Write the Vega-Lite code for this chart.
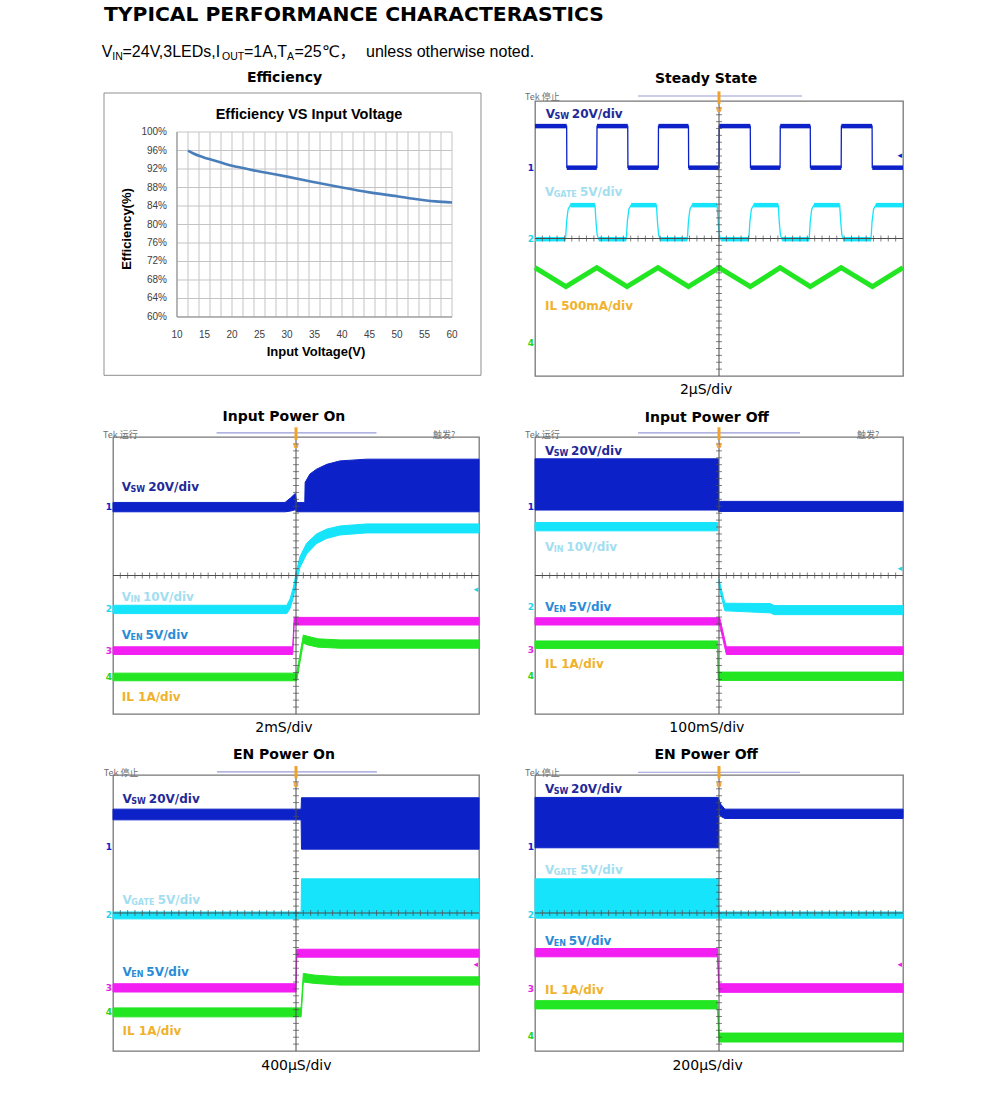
{
"$schema":"https://vega.github.io/schema/vega-lite/v6.json",
"usermeta":{"embedOptions":{"actions":false}},
"autosize":{"type":"none"},
"padding":{"left":113,"top":0,"right":878,"bottom":1119},
"background":"#ffffff",
"config":{"view":{"stroke":null},"font":"Liberation Sans"},
"datasets":{
"minor":[{"m":0.2},{"m":0.4},{"m":0.6},{"m":0.8},{"m":1},{"m":1.2},{"m":1.4},{"m":1.6},{"m":1.8},{"m":2},{"m":2.2},{"m":2.4},{"m":2.6},{"m":2.8},{"m":3},{"m":3.2},{"m":3.4},{"m":3.6},{"m":3.8},{"m":4},{"m":4.2},{"m":4.4},{"m":4.6},{"m":4.8},{"m":5},{"m":5.2},{"m":5.4},{"m":5.6},{"m":5.8},{"m":6},{"m":6.2},{"m":6.4},{"m":6.6},{"m":6.8},{"m":7},{"m":7.2},{"m":7.4},{"m":7.6},{"m":7.8},{"m":8},{"m":8.2},{"m":8.4},{"m":8.6},{"m":8.8},{"m":9},{"m":9.2},{"m":9.4},{"m":9.6},{"m":9.8}],
"hdr":[{"text":"V","hx":-11.3,"hy":56.7,"s":"main"},{"text":"IN","hx":-0.7,"hy":59.5,"s":"sub"},{"text":"=24V,3LEDs,I","hx":9.5,"hy":56.7,"s":"main"},{"text":"OUT","hx":109,"hy":59.5,"s":"sub"},{"text":"=1A,T","hx":131,"hy":56.7,"s":"main"},{"text":"A","hx":174,"hy":59.5,"s":"sub"},{"text":"=25℃，","hx":181.5,"hy":56.7,"s":"main"},{"text":"unless otherwise noted.","hx":253,"hy":56.7,"s":"main"}],
"egx":[{"v":10},{"v":12},{"v":14},{"v":16},{"v":18},{"v":20},{"v":22},{"v":24},{"v":26},{"v":28},{"v":30},{"v":32},{"v":34},{"v":36},{"v":38},{"v":40},{"v":42},{"v":44},{"v":46},{"v":48},{"v":50},{"v":52},{"v":54},{"v":56},{"v":58},{"v":60}],
"egy":[{"e":60,"lab":"60%"},{"e":64,"lab":"64%"},{"e":68,"lab":"68%"},{"e":72,"lab":"72%"},{"e":76,"lab":"76%"},{"e":80,"lab":"80%"},{"e":84,"lab":"84%"},{"e":88,"lab":"88%"},{"e":92,"lab":"92%"},{"e":96,"lab":"96%"},{"e":100,"lab":"100%"}],
"etx":[{"v":10},{"v":15},{"v":20},{"v":25},{"v":30},{"v":35},{"v":40},{"v":45},{"v":50},{"v":55},{"v":60}],
"eff":[{"v":12,"e":96.0},{"v":13,"e":95.35},{"v":14,"e":94.85},{"v":15,"e":94.45},{"v":16,"e":94.1},{"v":18,"e":93.4},{"v":20,"e":92.7},{"v":22,"e":92.2},{"v":25,"e":91.45},{"v":28,"e":90.8},{"v":30,"e":90.35},{"v":35,"e":89.15},{"v":40,"e":88.0},{"v":45,"e":86.95},{"v":50,"e":86.1},{"v":53,"e":85.55},{"v":55,"e":85.25},{"v":57,"e":85.0},{"v":60,"e":84.75}],
"s2":[{"ch":"VSW","t":0,"y":7.27},{"ch":"VSW","t":0.86,"y":7.27},{"ch":"VSW","t":0.865,"y":6.06},{"ch":"VSW","t":1.68,"y":6.06},{"ch":"VSW","t":1.685,"y":7.27},{"ch":"VSW","t":2.52,"y":7.27},{"ch":"VSW","t":2.525,"y":6.06},{"ch":"VSW","t":3.35,"y":6.06},{"ch":"VSW","t":3.355,"y":7.27},{"ch":"VSW","t":4.17,"y":7.27},{"ch":"VSW","t":4.175,"y":6.06},{"ch":"VSW","t":5.0,"y":6.06},{"ch":"VSW","t":5.005,"y":7.27},{"ch":"VSW","t":5.85,"y":7.27},{"ch":"VSW","t":5.855,"y":6.06},{"ch":"VSW","t":6.66,"y":6.06},{"ch":"VSW","t":6.665,"y":7.27},{"ch":"VSW","t":7.48,"y":7.27},{"ch":"VSW","t":7.485,"y":6.06},{"ch":"VSW","t":8.32,"y":6.06},{"ch":"VSW","t":8.325,"y":7.27},{"ch":"VSW","t":9.16,"y":7.27},{"ch":"VSW","t":9.165,"y":6.06},{"ch":"VSW","t":10,"y":6.06},
{"ch":"VGATE","t":0,"y":3.98},{"ch":"VGATE","t":0.83,"y":3.98},{"ch":"VGATE","t":0.86,"y":4.5},{"ch":"VGATE","t":0.9,"y":4.85},{"ch":"VGATE","t":0.96,"y":4.97},{"ch":"VGATE","t":1.63,"y":4.97},{"ch":"VGATE","t":1.66,"y":4.45},{"ch":"VGATE","t":1.69,"y":4.1},{"ch":"VGATE","t":1.73,"y":3.98},{"ch":"VGATE","t":2.48,"y":3.98},{"ch":"VGATE","t":2.51,"y":4.5},{"ch":"VGATE","t":2.55,"y":4.85},{"ch":"VGATE","t":2.61,"y":4.97},{"ch":"VGATE","t":3.3,"y":4.97},{"ch":"VGATE","t":3.33,"y":4.45},{"ch":"VGATE","t":3.36,"y":4.1},{"ch":"VGATE","t":3.4,"y":3.98},{"ch":"VGATE","t":4.14,"y":3.98},{"ch":"VGATE","t":4.17,"y":4.5},{"ch":"VGATE","t":4.21,"y":4.85},{"ch":"VGATE","t":4.27,"y":4.97},{"ch":"VGATE","t":4.95,"y":4.97},{"ch":"VGATE","t":4.98,"y":4.45},{"ch":"VGATE","t":5.01,"y":4.1},{"ch":"VGATE","t":5.05,"y":3.98},{"ch":"VGATE","t":5.81,"y":3.98},{"ch":"VGATE","t":5.84,"y":4.5},{"ch":"VGATE","t":5.88,"y":4.85},{"ch":"VGATE","t":5.94,"y":4.97},{"ch":"VGATE","t":6.61,"y":4.97},{"ch":"VGATE","t":6.64,"y":4.45},{"ch":"VGATE","t":6.67,"y":4.1},{"ch":"VGATE","t":6.71,"y":3.98},{"ch":"VGATE","t":7.45,"y":3.98},{"ch":"VGATE","t":7.48,"y":4.5},{"ch":"VGATE","t":7.52,"y":4.85},{"ch":"VGATE","t":7.58,"y":4.97},{"ch":"VGATE","t":8.28,"y":4.97},{"ch":"VGATE","t":8.31,"y":4.45},{"ch":"VGATE","t":8.34,"y":4.1},{"ch":"VGATE","t":8.38,"y":3.98},{"ch":"VGATE","t":9.13,"y":3.98},{"ch":"VGATE","t":9.16,"y":4.5},{"ch":"VGATE","t":9.2,"y":4.85},{"ch":"VGATE","t":9.26,"y":4.97},{"ch":"VGATE","t":10,"y":4.97}],
"p2":[{"ch":"VSW","t":0,"t2":0.86,"y":7.27},{"ch":"VSW","t":1.685,"t2":2.52,"y":7.27},{"ch":"VSW","t":3.355,"t2":4.17,"y":7.27},{"ch":"VSW","t":5.005,"t2":5.85,"y":7.27},{"ch":"VSW","t":6.665,"t2":7.48,"y":7.27},{"ch":"VSW","t":8.325,"t2":9.16,"y":7.27},
{"ch":"VSW","t":0.865,"t2":1.68,"y":6.06},{"ch":"VSW","t":2.525,"t2":3.35,"y":6.06},{"ch":"VSW","t":4.175,"t2":5.0,"y":6.06},{"ch":"VSW","t":5.855,"t2":6.66,"y":6.06},{"ch":"VSW","t":7.485,"t2":8.32,"y":6.06},{"ch":"VSW","t":9.165,"t2":10,"y":6.06},
{"ch":"VGATE","t":0,"t2":0.83,"y":3.98},{"ch":"VGATE","t":1.73,"t2":2.48,"y":3.98},{"ch":"VGATE","t":3.4,"t2":4.14,"y":3.98},{"ch":"VGATE","t":5.05,"t2":5.81,"y":3.98},{"ch":"VGATE","t":6.71,"t2":7.45,"y":3.98},{"ch":"VGATE","t":8.38,"t2":9.13,"y":3.98},
{"ch":"VGATE","t":0.96,"t2":1.63,"y":4.97},{"ch":"VGATE","t":2.61,"t2":3.3,"y":4.97},{"ch":"VGATE","t":4.27,"t2":4.95,"y":4.97},{"ch":"VGATE","t":5.94,"t2":6.61,"y":4.97},{"ch":"VGATE","t":7.58,"t2":8.28,"y":4.97},{"ch":"VGATE","t":9.26,"t2":10,"y":4.97}],
"il2":[{"ch":"IL","t":0,"y":3.15},{"ch":"IL","t":0.84,"y":2.6},{"ch":"IL","t":1.68,"y":3.15},{"ch":"IL","t":2.5,"y":2.6},{"ch":"IL","t":3.34,"y":3.15},{"ch":"IL","t":4.17,"y":2.6},{"ch":"IL","t":5.0,"y":3.15},{"ch":"IL","t":5.85,"y":2.6},{"ch":"IL","t":6.66,"y":3.15},{"ch":"IL","t":7.48,"y":2.6},{"ch":"IL","t":8.32,"y":3.15},{"ch":"IL","t":9.17,"y":2.6},{"ch":"IL","t":10,"y":3.15}],
"l2":[{"text":"V","t":0.29,"y":7.62,"c":"lvsw","s":"main"},{"text":"SW","t":0.53,"y":7.53,"c":"lvsw","s":"sub"},{"text":"20V/div","t":1.0,"y":7.62,"c":"lvsw","s":"main"},{"text":"V","t":0.27,"y":5.35,"c":"lvgate","s":"main"},{"text":"GATE","t":0.51,"y":5.26,"c":"lvgate","s":"sub"},{"text":"5V/div","t":1.22,"y":5.35,"c":"lvgate","s":"main"},{"text":"IL 500mA/div","t":0.27,"y":2.03,"c":"lil","s":"main"}],
"k2":[{"text":"1","t":0,"y":6.06,"c":"VSW"},{"text":"2","t":0,"y":3.98,"c":"VGATE"},{"text":"4","t":0,"y":0.97,"c":"IL"},{"text":"◂","t":10,"y":6.43,"c":"VSW"}],
"g2":[{"text":"Tek 停止","t":-0.27,"y":8.12}],
"b3":[{"ch":"VSW","seg":"a","t":0,"lo":5.84,"hi":6.11},{"ch":"VSW","seg":"a","t":4.7,"lo":5.84,"hi":6.11},{"ch":"VSW","seg":"a","t":4.85,"lo":5.86,"hi":6.24},{"ch":"VSW","seg":"a","t":4.98,"lo":5.9,"hi":6.37},{"ch":"VSW","seg":"a","t":5.02,"lo":5.84,"hi":6.11},{"ch":"VSW","seg":"a","t":5.24,"lo":5.84,"hi":6.11},{"ch":"VSW","seg":"a","t":5.25,"lo":5.84,"hi":6.69},{"ch":"VSW","seg":"a","t":5.38,"lo":5.84,"hi":6.93},{"ch":"VSW","seg":"a","t":5.56,"lo":5.84,"hi":7.07},{"ch":"VSW","seg":"a","t":5.84,"lo":5.84,"hi":7.21},{"ch":"VSW","seg":"a","t":6.2,"lo":5.84,"hi":7.31},{"ch":"VSW","seg":"a","t":6.93,"lo":5.84,"hi":7.36},{"ch":"VSW","seg":"a","t":10,"lo":5.84,"hi":7.36},
{"ch":"VIN","seg":"a","t":0,"lo":2.9,"hi":3.14},{"ch":"VIN","seg":"a","t":4.75,"lo":2.9,"hi":3.14},{"ch":"VIN","seg":"a","t":4.84,"lo":3.05,"hi":3.33},{"ch":"VIN","seg":"a","t":4.93,"lo":3.37,"hi":3.67},{"ch":"VIN","seg":"a","t":5.02,"lo":3.84,"hi":4.16},{"ch":"VIN","seg":"a","t":5.11,"lo":4.23,"hi":4.55},{"ch":"VIN","seg":"a","t":5.29,"lo":4.62,"hi":4.93},{"ch":"VIN","seg":"a","t":5.56,"lo":4.92,"hi":5.2},{"ch":"VIN","seg":"a","t":5.84,"lo":5.07,"hi":5.34},{"ch":"VIN","seg":"a","t":6.2,"lo":5.17,"hi":5.43},{"ch":"VIN","seg":"a","t":6.93,"lo":5.23,"hi":5.49},{"ch":"VIN","seg":"a","t":10,"lo":5.23,"hi":5.49},
{"ch":"VEN","seg":"a","t":0,"lo":1.72,"hi":1.94},{"ch":"VEN","seg":"a","t":4.91,"lo":1.72,"hi":1.94},{"ch":"VEN","seg":"a","t":4.95,"lo":2.57,"hi":2.79},{"ch":"VEN","seg":"a","t":10,"lo":2.57,"hi":2.79},
{"ch":"IL","seg":"a","t":0,"lo":0.96,"hi":1.18},{"ch":"IL","seg":"a","t":5.02,"lo":0.96,"hi":1.18},{"ch":"IL","seg":"a","t":5.2,"lo":2.05,"hi":2.28},{"ch":"IL","seg":"a","t":5.3,"lo":2.0,"hi":2.25},{"ch":"IL","seg":"a","t":5.6,"lo":1.93,"hi":2.17},{"ch":"IL","seg":"a","t":6.2,"lo":1.9,"hi":2.14},{"ch":"IL","seg":"a","t":10,"lo":1.9,"hi":2.14}],
"l3":[{"text":"V","t":0.24,"y":6.56,"c":"lvsw","s":"main"},{"text":"SW","t":0.48,"y":6.47,"c":"lvsw","s":"sub"},{"text":"20V/div","t":0.96,"y":6.56,"c":"lvsw","s":"main"},{"text":"V","t":0.24,"y":3.39,"c":"lvin","s":"main"},{"text":"IN","t":0.48,"y":3.3,"c":"lvin","s":"sub"},{"text":"10V/div","t":0.82,"y":3.39,"c":"lvin","s":"main"},{"text":"V","t":0.24,"y":2.28,"c":"lven","s":"main"},{"text":"EN","t":0.48,"y":2.19,"c":"lven","s":"sub"},{"text":"5V/div","t":0.89,"y":2.28,"c":"lven","s":"main"},{"text":"IL 1A/div","t":0.24,"y":0.5,"c":"lil","s":"main"}],
"k3":[{"text":"1","t":0,"y":5.97,"c":"VSW"},{"text":"2","t":0,"y":3.02,"c":"VIN"},{"text":"3","t":0,"y":1.83,"c":"VEN"},{"text":"4","t":0,"y":1.08,"c":"IL"},{"text":"◂","t":10,"y":3.62,"c":"VIN"}],
"g3":[{"text":"Tek 运行","t":-0.27,"y":8.06},{"text":"触发?","t":8.74,"y":8.06}],
"b4":[{"ch":"VSW","seg":"a","t":0,"lo":5.89,"hi":7.37},{"ch":"VSW","seg":"a","t":4.98,"lo":5.89,"hi":7.37},{"ch":"VSW","seg":"a","t":4.99,"lo":5.85,"hi":6.14},{"ch":"VSW","seg":"a","t":10,"lo":5.85,"hi":6.14},
{"ch":"VIN","seg":"a","t":0,"lo":5.29,"hi":5.53},{"ch":"VIN","seg":"a","t":4.96,"lo":5.29,"hi":5.53},
{"ch":"VIN","seg":"b","t":5.0,"lo":3.72,"hi":3.9},{"ch":"VIN","seg":"b","t":5.06,"lo":3.4,"hi":3.62},{"ch":"VIN","seg":"b","t":5.16,"lo":2.98,"hi":3.2},{"ch":"VIN","seg":"b","t":6.4,"lo":2.92,"hi":3.19},{"ch":"VIN","seg":"b","t":6.5,"lo":2.87,"hi":3.13},{"ch":"VIN","seg":"b","t":10,"lo":2.87,"hi":3.13},
{"ch":"VEN","seg":"a","t":0,"lo":2.57,"hi":2.78},{"ch":"VEN","seg":"a","t":5.02,"lo":2.57,"hi":2.78},{"ch":"VEN","seg":"a","t":5.2,"lo":1.72,"hi":1.94},{"ch":"VEN","seg":"a","t":10,"lo":1.72,"hi":1.94},
{"ch":"IL","seg":"a","t":0,"lo":1.89,"hi":2.11},{"ch":"IL","seg":"a","t":4.96,"lo":1.89,"hi":2.11},{"ch":"IL","seg":"a","t":4.98,"lo":0.97,"hi":1.21},{"ch":"IL","seg":"a","t":10,"lo":0.97,"hi":1.21}],
"l4":[{"text":"V","t":0.27,"y":7.6,"c":"lvsw","s":"main"},{"text":"SW","t":0.51,"y":7.51,"c":"lvsw","s":"sub"},{"text":"20V/div","t":0.98,"y":7.6,"c":"lvsw","s":"main"},{"text":"V","t":0.27,"y":4.83,"c":"lvin","s":"main"},{"text":"IN","t":0.51,"y":4.74,"c":"lvin","s":"sub"},{"text":"10V/div","t":0.85,"y":4.83,"c":"lvin","s":"main"},{"text":"V","t":0.27,"y":3.1,"c":"lven","s":"main"},{"text":"EN","t":0.51,"y":3.01,"c":"lven","s":"sub"},{"text":"5V/div","t":0.92,"y":3.1,"c":"lven","s":"main"},{"text":"IL 1A/div","t":0.27,"y":1.44,"c":"lil","s":"main"}],
"k4":[{"text":"1","t":0,"y":5.98,"c":"VSW"},{"text":"2","t":0,"y":3.1,"c":"VIN"},{"text":"3","t":0,"y":1.84,"c":"VEN"},{"text":"4","t":0,"y":1.1,"c":"IL"},{"text":"◂","t":10,"y":4.22,"c":"VIN"}],
"g4":[{"text":"Tek 运行","t":-0.27,"y":8.06},{"text":"触发?","t":8.75,"y":8.06}],
"b5":[{"ch":"VSW","seg":"a","t":0,"lo":6.7,"hi":7.01},{"ch":"VSW","seg":"a","t":5.14,"lo":6.7,"hi":7.01},{"ch":"VSW","seg":"a","t":5.15,"lo":5.85,"hi":7.34},{"ch":"VSW","seg":"a","t":10,"lo":5.85,"hi":7.34},
{"ch":"VGATE","seg":"a","t":0,"lo":3.83,"hi":4.03},{"ch":"VGATE","seg":"a","t":5.14,"lo":3.83,"hi":4.03},{"ch":"VGATE","seg":"a","t":5.15,"lo":3.83,"hi":4.99},{"ch":"VGATE","seg":"a","t":10,"lo":3.83,"hi":4.99},
{"ch":"VEN","seg":"a","t":0,"lo":1.71,"hi":1.95},{"ch":"VEN","seg":"a","t":5.0,"lo":1.71,"hi":1.95},{"ch":"VEN","seg":"a","t":5.02,"lo":2.72,"hi":2.95},{"ch":"VEN","seg":"a","t":10,"lo":2.72,"hi":2.95},
{"ch":"IL","seg":"a","t":0,"lo":0.99,"hi":1.25},{"ch":"IL","seg":"a","t":5.14,"lo":0.99,"hi":1.25},{"ch":"IL","seg":"a","t":5.2,"lo":2.0,"hi":2.25},{"ch":"IL","seg":"a","t":5.5,"lo":1.96,"hi":2.2},{"ch":"IL","seg":"a","t":6.2,"lo":1.91,"hi":2.15},{"ch":"IL","seg":"a","t":10,"lo":1.91,"hi":2.15}],
"l5":[{"text":"V","t":0.26,"y":7.31,"c":"lvsw","s":"main"},{"text":"SW","t":0.5,"y":7.22,"c":"lvsw","s":"sub"},{"text":"20V/div","t":0.98,"y":7.31,"c":"lvsw","s":"main"},{"text":"V","t":0.26,"y":4.37,"c":"lvgate","s":"main"},{"text":"GATE","t":0.5,"y":4.28,"c":"lvgate","s":"sub"},{"text":"5V/div","t":1.22,"y":4.37,"c":"lvgate","s":"main"},{"text":"V","t":0.26,"y":2.29,"c":"lven","s":"main"},{"text":"EN","t":0.5,"y":2.2,"c":"lven","s":"sub"},{"text":"5V/div","t":0.91,"y":2.29,"c":"lven","s":"main"},{"text":"IL 1A/div","t":0.26,"y":0.57,"c":"lil","s":"main"}],
"k5":[{"text":"1","t":0,"y":5.9,"c":"VSW"},{"text":"2","t":0,"y":3.93,"c":"VGATE"},{"text":"3","t":0,"y":1.84,"c":"VEN"},{"text":"4","t":0,"y":1.12,"c":"IL"},{"text":"◂","t":10,"y":2.53,"c":"VEN"}],
"g5":[{"text":"Tek 停止","t":-0.25,"y":8.06}],
"b6":[{"ch":"VSW","seg":"a","t":0,"lo":5.89,"hi":7.35},{"ch":"VSW","seg":"a","t":4.98,"lo":5.89,"hi":7.35},{"ch":"VSW","seg":"a","t":4.99,"lo":6.9,"hi":7.3},{"ch":"VSW","seg":"a","t":5.05,"lo":6.8,"hi":7.15},{"ch":"VSW","seg":"a","t":5.16,"lo":6.74,"hi":7.01},{"ch":"VSW","seg":"a","t":10,"lo":6.74,"hi":7.01},
{"ch":"VGATE","seg":"a","t":0,"lo":3.85,"hi":4.99},{"ch":"VGATE","seg":"a","t":4.98,"lo":3.85,"hi":4.99},{"ch":"VGATE","seg":"a","t":4.99,"lo":3.85,"hi":4.03},{"ch":"VGATE","seg":"a","t":10,"lo":3.85,"hi":4.03},
{"ch":"VEN","seg":"a","t":0,"lo":2.73,"hi":2.97},{"ch":"VEN","seg":"a","t":4.96,"lo":2.73,"hi":2.97},{"ch":"VEN","seg":"a","t":5.0,"lo":1.7,"hi":1.95},{"ch":"VEN","seg":"a","t":10,"lo":1.7,"hi":1.95},
{"ch":"IL","seg":"a","t":0,"lo":1.22,"hi":1.46},{"ch":"IL","seg":"a","t":4.96,"lo":1.22,"hi":1.46},{"ch":"IL","seg":"a","t":5.0,"lo":0.26,"hi":0.52},{"ch":"IL","seg":"a","t":10,"lo":0.26,"hi":0.52}],
"l6":[{"text":"V","t":0.27,"y":7.6,"c":"lvsw","s":"main"},{"text":"SW","t":0.51,"y":7.51,"c":"lvsw","s":"sub"},{"text":"20V/div","t":0.98,"y":7.6,"c":"lvsw","s":"main"},{"text":"V","t":0.27,"y":5.24,"c":"lvgate","s":"main"},{"text":"GATE","t":0.51,"y":5.15,"c":"lvgate","s":"sub"},{"text":"5V/div","t":1.23,"y":5.24,"c":"lvgate","s":"main"},{"text":"V","t":0.27,"y":3.18,"c":"lven","s":"main"},{"text":"EN","t":0.51,"y":3.09,"c":"lven","s":"sub"},{"text":"5V/div","t":0.92,"y":3.18,"c":"lven","s":"main"},{"text":"IL 1A/div","t":0.27,"y":1.76,"c":"lil","s":"main"}],
"k6":[{"text":"1","t":0,"y":5.91,"c":"VSW"},{"text":"2","t":0,"y":3.94,"c":"VGATE"},{"text":"3","t":0,"y":1.8,"c":"VEN"},{"text":"4","t":0,"y":0.44,"c":"IL"},{"text":"◂","t":10,"y":2.53,"c":"VEN"}],
"g6":[{"text":"Tek 停止","t":-0.27,"y":8.06}]
},
"spacing":0,
"bounds":"flush",
"resolve":{"scale":{"x":"independent","y":"independent","color":"independent","size":"independent","fill":"independent","stroke":"independent"}},
"vconcat":[
{"width":790,"height":101,
 "layer":[
  {"data":{"values":[{}]},"mark":{"type":"text","font":"DejaVu Sans","fontWeight":"bold","fontSize":20.3,"align":"left","baseline":"alphabetic","color":"#000000"},
   "encoding":{"x":{"datum":-9,"scale":{"domain":[0,790],"nice":false,"zero":false},"axis":null},"y":{"datum":20.7,"scale":{"domain":[0,101],"reverse":true,"nice":false,"zero":false},"axis":null},"text":{"value":"TYPICAL PERFORMANCE CHARACTERASTICS"}}},
  {"data":{"name":"hdr"},"mark":{"type":"text","font":"Liberation Sans, DejaVu Sans, Noto Sans CJK SC","align":"left","baseline":"alphabetic","color":"#000000"},
   "encoding":{"x":{"field":"hx","type":"quantitative","scale":{"domain":[0,790],"nice":false,"zero":false},"axis":null},"y":{"field":"hy","type":"quantitative","scale":{"domain":[0,101],"reverse":true,"nice":false,"zero":false},"axis":null},"text":{"field":"text"},"size":{"field":"s","type":"ordinal","scale":{"domain":["main","sub"],"range":[16,10.5]},"legend":null}}}
 ]},
{"columns":2,"spacing":{"row":61,"column":56},"bounds":"flush",
 "resolve":{"scale":{"x":"independent","y":"independent","color":"independent","size":"independent","fill":"independent","stroke":"independent"}},
 "concat":[
 {"width":366,"height":275,
  "layer":[
   {"data":{"name":"egx"},"mark":{"type":"rule","color":"#c4c4c4","strokeWidth":1},"encoding":{"x":{"field":"v","type":"quantitative","scale":{"domain":[-1.636,64.909],"nice":false,"zero":false},"axis":null},"y":{"datum":60,"scale":{"domain":[47.243,106.703],"nice":false,"zero":false},"axis":null},"y2":{"datum":100}}},
   {"data":{"name":"egy"},"mark":{"type":"rule","color":"#c4c4c4","strokeWidth":1},"encoding":{"y":{"field":"e","type":"quantitative","scale":{"domain":[47.243,106.703],"nice":false,"zero":false},"axis":null},"x":{"datum":10,"scale":{"domain":[-1.636,64.909],"nice":false,"zero":false},"axis":null},"x2":{"datum":60}}},
   {"data":{"values":[{}]},"mark":{"type":"rule","color":"#8a8a8a","strokeWidth":1},"encoding":{"x":{"datum":10,"scale":{"domain":[-1.636,64.909],"nice":false,"zero":false},"axis":null},"y":{"datum":60,"scale":{"domain":[47.243,106.703],"nice":false,"zero":false},"axis":null},"y2":{"datum":100}}},
   {"data":{"values":[{}]},"mark":{"type":"rule","color":"#8a8a8a","strokeWidth":1},"encoding":{"y":{"datum":60,"scale":{"domain":[47.243,106.703],"nice":false,"zero":false},"axis":null},"x":{"datum":10,"scale":{"domain":[-1.636,64.909],"nice":false,"zero":false},"axis":null},"x2":{"datum":60}}},
   {"data":{"name":"eff"},"mark":{"type":"line","color":"#4a7ebb","strokeWidth":2.6,"interpolate":"monotone"},
    "encoding":{"x":{"field":"v","type":"quantitative","scale":{"domain":[-1.636,64.909],"nice":false,"zero":false},"axis":null},"y":{"field":"e","type":"quantitative","scale":{"domain":[47.243,106.703],"nice":false,"zero":false},"axis":null}}},
   {"data":{"name":"etx"},"mark":{"type":"text","font":"Liberation Sans","fontSize":10,"align":"center","baseline":"middle","color":"#404040"},
    "encoding":{"x":{"field":"v","type":"quantitative","scale":{"domain":[-1.636,64.909],"nice":false,"zero":false},"axis":null},"y":{"datum":56.1,"scale":{"domain":[47.243,106.703],"nice":false,"zero":false},"axis":null},"text":{"field":"v","type":"quantitative","format":"d"}}},
   {"data":{"name":"egy"},"mark":{"type":"text","font":"Liberation Sans","fontSize":10,"align":"right","baseline":"middle","color":"#404040"},
    "encoding":{"y":{"field":"e","type":"quantitative","scale":{"domain":[47.243,106.703],"nice":false,"zero":false},"axis":null},"x":{"datum":8.18,"scale":{"domain":[-1.636,64.909],"nice":false,"zero":false},"axis":null},"text":{"field":"lab"}}},
   {"data":{"values":[{}]},"mark":{"type":"text","font":"Liberation Sans","fontWeight":"bold","fontSize":13,"align":"center","baseline":"middle","color":"#000000"},"encoding":{"x":{"datum":35.27,"scale":{"domain":[-1.636,64.909],"nice":false,"zero":false},"axis":null},"y":{"datum":52.43,"scale":{"domain":[47.243,106.703],"nice":false,"zero":false},"axis":null},"text":{"value":"Input Voltage(V)"}}},
   {"data":{"values":[{}]},"mark":{"type":"text","font":"Liberation Sans","fontWeight":"bold","fontSize":13,"align":"center","baseline":"middle","angle":270,"color":"#000000"},"encoding":{"x":{"datum":0.91,"scale":{"domain":[-1.636,64.909],"nice":false,"zero":false},"axis":null},"y":{"datum":79.03,"scale":{"domain":[47.243,106.703],"nice":false,"zero":false},"axis":null},"text":{"value":"Efficiency(%)"}}},
   {"data":{"values":[{}]},"mark":{"type":"rect","filled":false,"color":"#8f8f8f","strokeWidth":1},"encoding":{"x":{"datum":-3.27,"scale":{"domain":[-1.636,64.909],"nice":false,"zero":false},"axis":null},"x2":{"datum":65.27},"y":{"datum":47.39,"scale":{"domain":[47.243,106.703],"nice":false,"zero":false},"axis":null},"y2":{"datum":108.43}}},
   {"data":{"values":[{}]},"mark":{"type":"text","font":"DejaVu Sans","fontWeight":"bold","fontSize":14,"align":"center","baseline":"middle","color":"#000000"},"encoding":{"x":{"datum":29.55,"scale":{"domain":[-1.636,64.909],"nice":false,"zero":false},"axis":null},"y":{"datum":111.57,"scale":{"domain":[47.243,106.703],"nice":false,"zero":false},"axis":null},"text":{"value":"Efficiency"}}},
   {"data":{"values":[{}]},"mark":{"type":"text","font":"Liberation Sans","fontWeight":"bold","fontSize":14.5,"align":"center","baseline":"middle","color":"#000000"},"encoding":{"x":{"datum":34.0,"scale":{"domain":[-1.636,64.909],"nice":false,"zero":false},"axis":null},"y":{"datum":103.68,"scale":{"domain":[47.243,106.703],"nice":false,"zero":false},"axis":null},"text":{"value":"Efficiency VS Input Voltage"}}}
  ]},
 {"width":368,"height":275,"view":{"stroke":"#777777","strokeWidth":1.3},
  "layer":[
   {"data":{"name":"s2"},"mark":{"type":"line","strokeWidth":1.3},
    "encoding":{"x":{"field":"t","type":"quantitative","scale":{"domain":[0,10],"nice":false,"zero":false},"axis":{"values":[1,2,3,4,5,6,7,8,9],"grid":true,"gridColor":"#9c9c9c","gridDash":[1,3],"labels":false,"ticks":false,"domain":false,"title":null}},
     "y":{"field":"y","type":"quantitative","scale":{"domain":[0,8],"nice":false,"zero":false},"axis":{"values":[1,2,3,4,5,6,7],"grid":true,"gridColor":"#9c9c9c","gridDash":[1,3],"labels":false,"ticks":false,"domain":false,"title":null}},
     "stroke":{"field":"ch","type":"nominal","scale":{"domain":["VSW","VGATE","VIN","VEN","IL"],"range":["#0c22c8","#16e4fa","#16e4fa","#f21ef2","#22e622"]},"legend":null}}},
   {"data":{"name":"p2"},"mark":{"type":"rule","strokeWidth":4.5},
    "encoding":{"x":{"field":"t","type":"quantitative","scale":{"domain":[0,10],"nice":false,"zero":false},"axis":null},"x2":{"field":"t2"},"y":{"field":"y","type":"quantitative","scale":{"domain":[0,8],"nice":false,"zero":false},"axis":null},
     "stroke":{"field":"ch","type":"nominal","scale":{"domain":["VSW","VGATE","VIN","VEN","IL"],"range":["#0c22c8","#16e4fa","#16e4fa","#f21ef2","#22e622"]},"legend":null}}},
   {"data":{"name":"il2"},"mark":{"type":"line","strokeWidth":5},
    "encoding":{"x":{"field":"t","type":"quantitative","scale":{"domain":[0,10],"nice":false,"zero":false},"axis":null},"y":{"field":"y","type":"quantitative","scale":{"domain":[0,8],"nice":false,"zero":false},"axis":null},
     "stroke":{"field":"ch","type":"nominal","scale":{"domain":["VSW","VGATE","VIN","VEN","IL"],"range":["#0c22c8","#16e4fa","#16e4fa","#f21ef2","#22e622"]},"legend":null}}},
   {"data":{"values":[{}]},"mark":{"type":"rule","color":"#4d4d4d","strokeWidth":1},"encoding":{"x":{"datum":5,"scale":{"domain":[0,10],"nice":false,"zero":false},"axis":null},"y":{"datum":0,"scale":{"domain":[0,8],"nice":false,"zero":false},"axis":null},"y2":{"datum":8}}},
   {"data":{"values":[{}]},"mark":{"type":"rule","color":"#4d4d4d","strokeWidth":1},"encoding":{"x":{"datum":0,"scale":{"domain":[0,10],"nice":false,"zero":false},"axis":null},"x2":{"datum":10},"y":{"datum":4,"scale":{"domain":[0,8],"nice":false,"zero":false},"axis":null}}},
   {"data":{"name":"minor"},"mark":{"type":"tick","orient":"vertical","size":6,"thickness":1,"color":"#4d4d4d"},"encoding":{"x":{"field":"m","type":"quantitative","scale":{"domain":[0,10],"nice":false,"zero":false},"axis":null},"y":{"datum":4,"scale":{"domain":[0,8],"nice":false,"zero":false},"axis":null}}},
   {"data":{"name":"minor"},"transform":[{"filter":"datum.m < 8"}],"mark":{"type":"tick","orient":"horizontal","size":6,"thickness":1,"color":"#4d4d4d"},"encoding":{"y":{"field":"m","type":"quantitative","scale":{"domain":[0,8],"nice":false,"zero":false},"axis":null},"x":{"datum":5,"scale":{"domain":[0,10],"nice":false,"zero":false},"axis":null}}},
   {"data":{"name":"l2"},"mark":{"type":"text","font":"DejaVu Sans","fontWeight":"bold","align":"left","baseline":"middle"},"encoding":{"x":{"field":"t","type":"quantitative","scale":{"domain":[0,10],"nice":false,"zero":false},"axis":null},"y":{"field":"y","type":"quantitative","scale":{"domain":[0,8],"nice":false,"zero":false},"axis":null},"text":{"field":"text"},"color":{"field":"c","type":"nominal","scale":{"domain":["VSW","VGATE","VIN","VEN","IL","lvsw","lvgate","lvin","lven","lil"],"range":["#0c22c8","#1ed6ee","#1ed6ee","#e61ee6","#22d622","#1f2a98","#a3def0","#a3def0","#2b8cd6","#f0b22c"]},"legend":null},"size":{"field":"s","type":"ordinal","scale":{"domain":["main","sub"],"range":[12,8]},"legend":null}}},
   {"data":{"name":"k2"},"mark":{"type":"text","font":"DejaVu Sans","fontWeight":"bold","fontSize":9,"align":"right","baseline":"middle","dx":-1},"encoding":{"x":{"field":"t","type":"quantitative","scale":{"domain":[0,10],"nice":false,"zero":false},"axis":null},"y":{"field":"y","type":"quantitative","scale":{"domain":[0,8],"nice":false,"zero":false},"axis":null},"text":{"field":"text"},"color":{"field":"c","type":"nominal","scale":{"domain":["VSW","VGATE","VIN","VEN","IL","lvsw","lvgate","lvin","lven","lil"],"range":["#0c22c8","#1ed6ee","#1ed6ee","#e61ee6","#22d622","#1f2a98","#a3def0","#a3def0","#2b8cd6","#f0b22c"]},"legend":null}}},
   {"data":{"name":"g2"},"mark":{"type":"text","font":"Noto Sans CJK SC","fontSize":9,"align":"left","baseline":"middle","color":"#6e6e6e"},"encoding":{"x":{"field":"t","type":"quantitative","scale":{"domain":[0,10],"nice":false,"zero":false},"axis":null},"y":{"field":"y","type":"quantitative","scale":{"domain":[0,8],"nice":false,"zero":false},"axis":null},"text":{"field":"text"}}},
   {"data":{"values":[{}]},"mark":{"type":"rule","color":"#9a9ad8","strokeWidth":1.2},"encoding":{"x":{"datum":2.8,"scale":{"domain":[0,10],"nice":false,"zero":false},"axis":null},"x2":{"datum":7.26},"y":{"datum":8.145,"scale":{"domain":[0,8],"nice":false,"zero":false},"axis":null}}},
   {"data":{"values":[{}]},"mark":{"type":"rule","color":"#f0a22a","strokeWidth":3},"encoding":{"x":{"datum":5,"scale":{"domain":[0,10],"nice":false,"zero":false},"axis":null},"y":{"datum":8.28,"scale":{"domain":[0,8],"nice":false,"zero":false},"axis":null},"y2":{"datum":7.92}}},
   {"data":{"values":[{}]},"mark":{"type":"text","font":"DejaVu Sans","fontWeight":"bold","fontSize":7,"align":"center","baseline":"middle","color":"#f0a22a"},"encoding":{"x":{"datum":5,"scale":{"domain":[0,10],"nice":false,"zero":false},"axis":null},"y":{"datum":7.74,"scale":{"domain":[0,8],"nice":false,"zero":false},"axis":null},"text":{"value":"U"}}},
   {"data":{"values":[{}]},"mark":{"type":"text","font":"DejaVu Sans","fontWeight":"bold","fontSize":14,"align":"center","baseline":"middle","color":"#000000"},"encoding":{"x":{"datum":4.65,"scale":{"domain":[0,10],"nice":false,"zero":false},"axis":null},"y":{"datum":8.63,"scale":{"domain":[0,8],"nice":false,"zero":false},"axis":null},"text":{"value":"Steady State"}}},
   {"data":{"values":[{}]},"mark":{"type":"text","font":"DejaVu Sans","fontSize":14,"align":"center","baseline":"middle","color":"#000000"},"encoding":{"x":{"datum":4.65,"scale":{"domain":[0,10],"nice":false,"zero":false},"axis":null},"y":{"datum":-0.42,"scale":{"domain":[0,8],"nice":false,"zero":false},"axis":null},"text":{"value":"2µS/div"}}}
  ]},
 {"width":366,"height":277,"view":{"stroke":"#777777","strokeWidth":1.3},
  "layer":[
   {"data":{"name":"b3"},"mark":{"type":"area","strokeWidth":1},
    "encoding":{"x":{"field":"t","type":"quantitative","scale":{"domain":[0,10],"nice":false,"zero":false},"axis":{"values":[1,2,3,4,5,6,7,8,9],"grid":true,"gridColor":"#9c9c9c","gridDash":[1,3],"labels":false,"ticks":false,"domain":false,"title":null}},
     "y":{"field":"lo","type":"quantitative","scale":{"domain":[0,8],"nice":false,"zero":false},"axis":{"values":[1,2,3,4,5,6,7],"grid":true,"gridColor":"#9c9c9c","gridDash":[1,3],"labels":false,"ticks":false,"domain":false,"title":null}},
     "y2":{"field":"hi"},
     "fill":{"field":"ch","type":"nominal","scale":{"domain":["VSW","VGATE","VIN","VEN","IL"],"range":["#0c22c8","#16e4fa","#16e4fa","#f21ef2","#22e622"]},"legend":null},
     "stroke":{"field":"ch","type":"nominal","scale":{"domain":["VSW","VGATE","VIN","VEN","IL"],"range":["#0c22c8","#16e4fa","#16e4fa","#f21ef2","#22e622"]},"legend":null},
     "detail":{"field":"seg","type":"nominal"}}},
   {"data":{"values":[{}]},"mark":{"type":"rule","color":"#4d4d4d","strokeWidth":1},"encoding":{"x":{"datum":5,"scale":{"domain":[0,10],"nice":false,"zero":false},"axis":null},"y":{"datum":0,"scale":{"domain":[0,8],"nice":false,"zero":false},"axis":null},"y2":{"datum":8}}},
   {"data":{"values":[{}]},"mark":{"type":"rule","color":"#4d4d4d","strokeWidth":1},"encoding":{"x":{"datum":0,"scale":{"domain":[0,10],"nice":false,"zero":false},"axis":null},"x2":{"datum":10},"y":{"datum":4,"scale":{"domain":[0,8],"nice":false,"zero":false},"axis":null}}},
   {"data":{"name":"minor"},"mark":{"type":"tick","orient":"vertical","size":6,"thickness":1,"color":"#4d4d4d"},"encoding":{"x":{"field":"m","type":"quantitative","scale":{"domain":[0,10],"nice":false,"zero":false},"axis":null},"y":{"datum":4,"scale":{"domain":[0,8],"nice":false,"zero":false},"axis":null}}},
   {"data":{"name":"minor"},"transform":[{"filter":"datum.m < 8"}],"mark":{"type":"tick","orient":"horizontal","size":6,"thickness":1,"color":"#4d4d4d"},"encoding":{"y":{"field":"m","type":"quantitative","scale":{"domain":[0,8],"nice":false,"zero":false},"axis":null},"x":{"datum":5,"scale":{"domain":[0,10],"nice":false,"zero":false},"axis":null}}},
   {"data":{"name":"l3"},"mark":{"type":"text","font":"DejaVu Sans","fontWeight":"bold","align":"left","baseline":"middle"},"encoding":{"x":{"field":"t","type":"quantitative","scale":{"domain":[0,10],"nice":false,"zero":false},"axis":null},"y":{"field":"y","type":"quantitative","scale":{"domain":[0,8],"nice":false,"zero":false},"axis":null},"text":{"field":"text"},"color":{"field":"c","type":"nominal","scale":{"domain":["VSW","VGATE","VIN","VEN","IL","lvsw","lvgate","lvin","lven","lil"],"range":["#0c22c8","#1ed6ee","#1ed6ee","#e61ee6","#22d622","#1f2a98","#a3def0","#a3def0","#2b8cd6","#f0b22c"]},"legend":null},"size":{"field":"s","type":"ordinal","scale":{"domain":["main","sub"],"range":[12,8]},"legend":null}}},
   {"data":{"name":"k3"},"mark":{"type":"text","font":"DejaVu Sans","fontWeight":"bold","fontSize":9,"align":"right","baseline":"middle","dx":-1},"encoding":{"x":{"field":"t","type":"quantitative","scale":{"domain":[0,10],"nice":false,"zero":false},"axis":null},"y":{"field":"y","type":"quantitative","scale":{"domain":[0,8],"nice":false,"zero":false},"axis":null},"text":{"field":"text"},"color":{"field":"c","type":"nominal","scale":{"domain":["VSW","VGATE","VIN","VEN","IL","lvsw","lvgate","lvin","lven","lil"],"range":["#0c22c8","#1ed6ee","#1ed6ee","#e61ee6","#22d622","#1f2a98","#a3def0","#a3def0","#2b8cd6","#f0b22c"]},"legend":null}}},
   {"data":{"name":"g3"},"mark":{"type":"text","font":"Noto Sans CJK SC","fontSize":9,"align":"left","baseline":"middle","color":"#6e6e6e"},"encoding":{"x":{"field":"t","type":"quantitative","scale":{"domain":[0,10],"nice":false,"zero":false},"axis":null},"y":{"field":"y","type":"quantitative","scale":{"domain":[0,8],"nice":false,"zero":false},"axis":null},"text":{"field":"text"}}},
   {"data":{"values":[{}]},"mark":{"type":"rule","color":"#9a9ad8","strokeWidth":1.2},"encoding":{"x":{"datum":2.83,"scale":{"domain":[0,10],"nice":false,"zero":false},"axis":null},"x2":{"datum":7.2},"y":{"datum":8.12,"scale":{"domain":[0,8],"nice":false,"zero":false},"axis":null}}},
   {"data":{"values":[{}]},"mark":{"type":"rule","color":"#f0a22a","strokeWidth":3},"encoding":{"x":{"datum":5,"scale":{"domain":[0,10],"nice":false,"zero":false},"axis":null},"y":{"datum":8.28,"scale":{"domain":[0,8],"nice":false,"zero":false},"axis":null},"y2":{"datum":7.92}}},
   {"data":{"values":[{}]},"mark":{"type":"text","font":"DejaVu Sans","fontWeight":"bold","fontSize":7,"align":"center","baseline":"middle","color":"#f0a22a"},"encoding":{"x":{"datum":5,"scale":{"domain":[0,10],"nice":false,"zero":false},"axis":null},"y":{"datum":7.74,"scale":{"domain":[0,8],"nice":false,"zero":false},"axis":null},"text":{"value":"U"}}},
   {"data":{"values":[{}]},"mark":{"type":"text","font":"DejaVu Sans","fontWeight":"bold","fontSize":14,"align":"center","baseline":"middle","color":"#000000"},"encoding":{"x":{"datum":4.67,"scale":{"domain":[0,10],"nice":false,"zero":false},"axis":null},"y":{"datum":8.59,"scale":{"domain":[0,8],"nice":false,"zero":false},"axis":null},"text":{"value":"Input Power On"}}},
   {"data":{"values":[{}]},"mark":{"type":"text","font":"DejaVu Sans","fontSize":14,"align":"center","baseline":"middle","color":"#000000"},"encoding":{"x":{"datum":4.67,"scale":{"domain":[0,10],"nice":false,"zero":false},"axis":null},"y":{"datum":-0.4,"scale":{"domain":[0,8],"nice":false,"zero":false},"axis":null},"text":{"value":"2mS/div"}}}
  ]},
 {"width":368,"height":277,"view":{"stroke":"#777777","strokeWidth":1.3},
  "layer":[
   {"data":{"name":"b4"},"mark":{"type":"area","strokeWidth":1},
    "encoding":{"x":{"field":"t","type":"quantitative","scale":{"domain":[0,10],"nice":false,"zero":false},"axis":{"values":[1,2,3,4,5,6,7,8,9],"grid":true,"gridColor":"#9c9c9c","gridDash":[1,3],"labels":false,"ticks":false,"domain":false,"title":null}},
     "y":{"field":"lo","type":"quantitative","scale":{"domain":[0,8],"nice":false,"zero":false},"axis":{"values":[1,2,3,4,5,6,7],"grid":true,"gridColor":"#9c9c9c","gridDash":[1,3],"labels":false,"ticks":false,"domain":false,"title":null}},
     "y2":{"field":"hi"},
     "fill":{"field":"ch","type":"nominal","scale":{"domain":["VSW","VGATE","VIN","VEN","IL"],"range":["#0c22c8","#16e4fa","#16e4fa","#f21ef2","#22e622"]},"legend":null},
     "stroke":{"field":"ch","type":"nominal","scale":{"domain":["VSW","VGATE","VIN","VEN","IL"],"range":["#0c22c8","#16e4fa","#16e4fa","#f21ef2","#22e622"]},"legend":null},
     "detail":{"field":"seg","type":"nominal"}}},
   {"data":{"values":[{}]},"mark":{"type":"rule","color":"#4d4d4d","strokeWidth":1},"encoding":{"x":{"datum":5,"scale":{"domain":[0,10],"nice":false,"zero":false},"axis":null},"y":{"datum":0,"scale":{"domain":[0,8],"nice":false,"zero":false},"axis":null},"y2":{"datum":8}}},
   {"data":{"values":[{}]},"mark":{"type":"rule","color":"#4d4d4d","strokeWidth":1},"encoding":{"x":{"datum":0,"scale":{"domain":[0,10],"nice":false,"zero":false},"axis":null},"x2":{"datum":10},"y":{"datum":4,"scale":{"domain":[0,8],"nice":false,"zero":false},"axis":null}}},
   {"data":{"name":"minor"},"mark":{"type":"tick","orient":"vertical","size":6,"thickness":1,"color":"#4d4d4d"},"encoding":{"x":{"field":"m","type":"quantitative","scale":{"domain":[0,10],"nice":false,"zero":false},"axis":null},"y":{"datum":4,"scale":{"domain":[0,8],"nice":false,"zero":false},"axis":null}}},
   {"data":{"name":"minor"},"transform":[{"filter":"datum.m < 8"}],"mark":{"type":"tick","orient":"horizontal","size":6,"thickness":1,"color":"#4d4d4d"},"encoding":{"y":{"field":"m","type":"quantitative","scale":{"domain":[0,8],"nice":false,"zero":false},"axis":null},"x":{"datum":5,"scale":{"domain":[0,10],"nice":false,"zero":false},"axis":null}}},
   {"data":{"name":"l4"},"mark":{"type":"text","font":"DejaVu Sans","fontWeight":"bold","align":"left","baseline":"middle"},"encoding":{"x":{"field":"t","type":"quantitative","scale":{"domain":[0,10],"nice":false,"zero":false},"axis":null},"y":{"field":"y","type":"quantitative","scale":{"domain":[0,8],"nice":false,"zero":false},"axis":null},"text":{"field":"text"},"color":{"field":"c","type":"nominal","scale":{"domain":["VSW","VGATE","VIN","VEN","IL","lvsw","lvgate","lvin","lven","lil"],"range":["#0c22c8","#1ed6ee","#1ed6ee","#e61ee6","#22d622","#1f2a98","#a3def0","#a3def0","#2b8cd6","#f0b22c"]},"legend":null},"size":{"field":"s","type":"ordinal","scale":{"domain":["main","sub"],"range":[12,8]},"legend":null}}},
   {"data":{"name":"k4"},"mark":{"type":"text","font":"DejaVu Sans","fontWeight":"bold","fontSize":9,"align":"right","baseline":"middle","dx":-1},"encoding":{"x":{"field":"t","type":"quantitative","scale":{"domain":[0,10],"nice":false,"zero":false},"axis":null},"y":{"field":"y","type":"quantitative","scale":{"domain":[0,8],"nice":false,"zero":false},"axis":null},"text":{"field":"text"},"color":{"field":"c","type":"nominal","scale":{"domain":["VSW","VGATE","VIN","VEN","IL","lvsw","lvgate","lvin","lven","lil"],"range":["#0c22c8","#1ed6ee","#1ed6ee","#e61ee6","#22d622","#1f2a98","#a3def0","#a3def0","#2b8cd6","#f0b22c"]},"legend":null}}},
   {"data":{"name":"g4"},"mark":{"type":"text","font":"Noto Sans CJK SC","fontSize":9,"align":"left","baseline":"middle","color":"#6e6e6e"},"encoding":{"x":{"field":"t","type":"quantitative","scale":{"domain":[0,10],"nice":false,"zero":false},"axis":null},"y":{"field":"y","type":"quantitative","scale":{"domain":[0,8],"nice":false,"zero":false},"axis":null},"text":{"field":"text"}}},
   {"data":{"values":[{}]},"mark":{"type":"rule","color":"#9a9ad8","strokeWidth":1.2},"encoding":{"x":{"datum":2.8,"scale":{"domain":[0,10],"nice":false,"zero":false},"axis":null},"x2":{"datum":7.2},"y":{"datum":8.12,"scale":{"domain":[0,8],"nice":false,"zero":false},"axis":null}}},
   {"data":{"values":[{}]},"mark":{"type":"rule","color":"#f0a22a","strokeWidth":3},"encoding":{"x":{"datum":5,"scale":{"domain":[0,10],"nice":false,"zero":false},"axis":null},"y":{"datum":8.28,"scale":{"domain":[0,8],"nice":false,"zero":false},"axis":null},"y2":{"datum":7.92}}},
   {"data":{"values":[{}]},"mark":{"type":"text","font":"DejaVu Sans","fontWeight":"bold","fontSize":7,"align":"center","baseline":"middle","color":"#f0a22a"},"encoding":{"x":{"datum":5,"scale":{"domain":[0,10],"nice":false,"zero":false},"axis":null},"y":{"datum":7.74,"scale":{"domain":[0,8],"nice":false,"zero":false},"axis":null},"text":{"value":"U"}}},
   {"data":{"values":[{}]},"mark":{"type":"text","font":"DejaVu Sans","fontWeight":"bold","fontSize":14,"align":"center","baseline":"middle","color":"#000000"},"encoding":{"x":{"datum":4.67,"scale":{"domain":[0,10],"nice":false,"zero":false},"axis":null},"y":{"datum":8.56,"scale":{"domain":[0,8],"nice":false,"zero":false},"axis":null},"text":{"value":"Input Power Off"}}},
   {"data":{"values":[{}]},"mark":{"type":"text","font":"DejaVu Sans","fontSize":14,"align":"center","baseline":"middle","color":"#000000"},"encoding":{"x":{"datum":4.67,"scale":{"domain":[0,10],"nice":false,"zero":false},"axis":null},"y":{"datum":-0.4,"scale":{"domain":[0,8],"nice":false,"zero":false},"axis":null},"text":{"value":"100mS/div"}}}
  ]},
 {"width":366,"height":276,"view":{"stroke":"#777777","strokeWidth":1.3},
  "layer":[
   {"data":{"name":"b5"},"mark":{"type":"area","strokeWidth":1},
    "encoding":{"x":{"field":"t","type":"quantitative","scale":{"domain":[0,10],"nice":false,"zero":false},"axis":{"values":[1,2,3,4,5,6,7,8,9],"grid":true,"gridColor":"#9c9c9c","gridDash":[1,3],"labels":false,"ticks":false,"domain":false,"title":null}},
     "y":{"field":"lo","type":"quantitative","scale":{"domain":[0,8],"nice":false,"zero":false},"axis":{"values":[1,2,3,4,5,6,7],"grid":true,"gridColor":"#9c9c9c","gridDash":[1,3],"labels":false,"ticks":false,"domain":false,"title":null}},
     "y2":{"field":"hi"},
     "fill":{"field":"ch","type":"nominal","scale":{"domain":["VSW","VGATE","VIN","VEN","IL"],"range":["#0c22c8","#16e4fa","#16e4fa","#f21ef2","#22e622"]},"legend":null},
     "stroke":{"field":"ch","type":"nominal","scale":{"domain":["VSW","VGATE","VIN","VEN","IL"],"range":["#0c22c8","#16e4fa","#16e4fa","#f21ef2","#22e622"]},"legend":null},
     "detail":{"field":"seg","type":"nominal"}}},
   {"data":{"values":[{}]},"mark":{"type":"rule","color":"#4d4d4d","strokeWidth":1},"encoding":{"x":{"datum":5,"scale":{"domain":[0,10],"nice":false,"zero":false},"axis":null},"y":{"datum":0,"scale":{"domain":[0,8],"nice":false,"zero":false},"axis":null},"y2":{"datum":8}}},
   {"data":{"values":[{}]},"mark":{"type":"rule","color":"#4d4d4d","strokeWidth":1},"encoding":{"x":{"datum":0,"scale":{"domain":[0,10],"nice":false,"zero":false},"axis":null},"x2":{"datum":10},"y":{"datum":4,"scale":{"domain":[0,8],"nice":false,"zero":false},"axis":null}}},
   {"data":{"name":"minor"},"mark":{"type":"tick","orient":"vertical","size":6,"thickness":1,"color":"#4d4d4d"},"encoding":{"x":{"field":"m","type":"quantitative","scale":{"domain":[0,10],"nice":false,"zero":false},"axis":null},"y":{"datum":4,"scale":{"domain":[0,8],"nice":false,"zero":false},"axis":null}}},
   {"data":{"name":"minor"},"transform":[{"filter":"datum.m < 8"}],"mark":{"type":"tick","orient":"horizontal","size":6,"thickness":1,"color":"#4d4d4d"},"encoding":{"y":{"field":"m","type":"quantitative","scale":{"domain":[0,8],"nice":false,"zero":false},"axis":null},"x":{"datum":5,"scale":{"domain":[0,10],"nice":false,"zero":false},"axis":null}}},
   {"data":{"name":"l5"},"mark":{"type":"text","font":"DejaVu Sans","fontWeight":"bold","align":"left","baseline":"middle"},"encoding":{"x":{"field":"t","type":"quantitative","scale":{"domain":[0,10],"nice":false,"zero":false},"axis":null},"y":{"field":"y","type":"quantitative","scale":{"domain":[0,8],"nice":false,"zero":false},"axis":null},"text":{"field":"text"},"color":{"field":"c","type":"nominal","scale":{"domain":["VSW","VGATE","VIN","VEN","IL","lvsw","lvgate","lvin","lven","lil"],"range":["#0c22c8","#1ed6ee","#1ed6ee","#e61ee6","#22d622","#1f2a98","#a3def0","#a3def0","#2b8cd6","#f0b22c"]},"legend":null},"size":{"field":"s","type":"ordinal","scale":{"domain":["main","sub"],"range":[12,8]},"legend":null}}},
   {"data":{"name":"k5"},"mark":{"type":"text","font":"DejaVu Sans","fontWeight":"bold","fontSize":9,"align":"right","baseline":"middle","dx":-1},"encoding":{"x":{"field":"t","type":"quantitative","scale":{"domain":[0,10],"nice":false,"zero":false},"axis":null},"y":{"field":"y","type":"quantitative","scale":{"domain":[0,8],"nice":false,"zero":false},"axis":null},"text":{"field":"text"},"color":{"field":"c","type":"nominal","scale":{"domain":["VSW","VGATE","VIN","VEN","IL","lvsw","lvgate","lvin","lven","lil"],"range":["#0c22c8","#1ed6ee","#1ed6ee","#e61ee6","#22d622","#1f2a98","#a3def0","#a3def0","#2b8cd6","#f0b22c"]},"legend":null}}},
   {"data":{"name":"g5"},"mark":{"type":"text","font":"Noto Sans CJK SC","fontSize":9,"align":"left","baseline":"middle","color":"#6e6e6e"},"encoding":{"x":{"field":"t","type":"quantitative","scale":{"domain":[0,10],"nice":false,"zero":false},"axis":null},"y":{"field":"y","type":"quantitative","scale":{"domain":[0,8],"nice":false,"zero":false},"axis":null},"text":{"field":"text"}}},
   {"data":{"values":[{}]},"mark":{"type":"rule","color":"#9a9ad8","strokeWidth":1.2},"encoding":{"x":{"datum":2.84,"scale":{"domain":[0,10],"nice":false,"zero":false},"axis":null},"x2":{"datum":7.21},"y":{"datum":8.09,"scale":{"domain":[0,8],"nice":false,"zero":false},"axis":null}}},
   {"data":{"values":[{}]},"mark":{"type":"rule","color":"#f0a22a","strokeWidth":3},"encoding":{"x":{"datum":5,"scale":{"domain":[0,10],"nice":false,"zero":false},"axis":null},"y":{"datum":8.26,"scale":{"domain":[0,8],"nice":false,"zero":false},"axis":null},"y2":{"datum":7.9}}},
   {"data":{"values":[{}]},"mark":{"type":"text","font":"DejaVu Sans","fontWeight":"bold","fontSize":7,"align":"center","baseline":"middle","color":"#f0a22a"},"encoding":{"x":{"datum":5,"scale":{"domain":[0,10],"nice":false,"zero":false},"axis":null},"y":{"datum":7.72,"scale":{"domain":[0,8],"nice":false,"zero":false},"axis":null},"text":{"value":"U"}}},
   {"data":{"values":[{}]},"mark":{"type":"text","font":"DejaVu Sans","fontWeight":"bold","fontSize":14,"align":"center","baseline":"middle","color":"#000000"},"encoding":{"x":{"datum":4.67,"scale":{"domain":[0,10],"nice":false,"zero":false},"axis":null},"y":{"datum":8.58,"scale":{"domain":[0,8],"nice":false,"zero":false},"axis":null},"text":{"value":"EN Power On"}}},
   {"data":{"values":[{}]},"mark":{"type":"text","font":"DejaVu Sans","fontSize":14,"align":"center","baseline":"middle","color":"#000000"},"encoding":{"x":{"datum":5.01,"scale":{"domain":[0,10],"nice":false,"zero":false},"axis":null},"y":{"datum":-0.43,"scale":{"domain":[0,8],"nice":false,"zero":false},"axis":null},"text":{"value":"400µS/div"}}}
  ]},
 {"width":368,"height":276,"view":{"stroke":"#777777","strokeWidth":1.3},
  "layer":[
   {"data":{"name":"b6"},"mark":{"type":"area","strokeWidth":1},
    "encoding":{"x":{"field":"t","type":"quantitative","scale":{"domain":[0,10],"nice":false,"zero":false},"axis":{"values":[1,2,3,4,5,6,7,8,9],"grid":true,"gridColor":"#9c9c9c","gridDash":[1,3],"labels":false,"ticks":false,"domain":false,"title":null}},
     "y":{"field":"lo","type":"quantitative","scale":{"domain":[0,8],"nice":false,"zero":false},"axis":{"values":[1,2,3,4,5,6,7],"grid":true,"gridColor":"#9c9c9c","gridDash":[1,3],"labels":false,"ticks":false,"domain":false,"title":null}},
     "y2":{"field":"hi"},
     "fill":{"field":"ch","type":"nominal","scale":{"domain":["VSW","VGATE","VIN","VEN","IL"],"range":["#0c22c8","#16e4fa","#16e4fa","#f21ef2","#22e622"]},"legend":null},
     "stroke":{"field":"ch","type":"nominal","scale":{"domain":["VSW","VGATE","VIN","VEN","IL"],"range":["#0c22c8","#16e4fa","#16e4fa","#f21ef2","#22e622"]},"legend":null},
     "detail":{"field":"seg","type":"nominal"}}},
   {"data":{"values":[{}]},"mark":{"type":"rule","color":"#4d4d4d","strokeWidth":1},"encoding":{"x":{"datum":5,"scale":{"domain":[0,10],"nice":false,"zero":false},"axis":null},"y":{"datum":0,"scale":{"domain":[0,8],"nice":false,"zero":false},"axis":null},"y2":{"datum":8}}},
   {"data":{"values":[{}]},"mark":{"type":"rule","color":"#4d4d4d","strokeWidth":1},"encoding":{"x":{"datum":0,"scale":{"domain":[0,10],"nice":false,"zero":false},"axis":null},"x2":{"datum":10},"y":{"datum":4,"scale":{"domain":[0,8],"nice":false,"zero":false},"axis":null}}},
   {"data":{"name":"minor"},"mark":{"type":"tick","orient":"vertical","size":6,"thickness":1,"color":"#4d4d4d"},"encoding":{"x":{"field":"m","type":"quantitative","scale":{"domain":[0,10],"nice":false,"zero":false},"axis":null},"y":{"datum":4,"scale":{"domain":[0,8],"nice":false,"zero":false},"axis":null}}},
   {"data":{"name":"minor"},"transform":[{"filter":"datum.m < 8"}],"mark":{"type":"tick","orient":"horizontal","size":6,"thickness":1,"color":"#4d4d4d"},"encoding":{"y":{"field":"m","type":"quantitative","scale":{"domain":[0,8],"nice":false,"zero":false},"axis":null},"x":{"datum":5,"scale":{"domain":[0,10],"nice":false,"zero":false},"axis":null}}},
   {"data":{"name":"l6"},"mark":{"type":"text","font":"DejaVu Sans","fontWeight":"bold","align":"left","baseline":"middle"},"encoding":{"x":{"field":"t","type":"quantitative","scale":{"domain":[0,10],"nice":false,"zero":false},"axis":null},"y":{"field":"y","type":"quantitative","scale":{"domain":[0,8],"nice":false,"zero":false},"axis":null},"text":{"field":"text"},"color":{"field":"c","type":"nominal","scale":{"domain":["VSW","VGATE","VIN","VEN","IL","lvsw","lvgate","lvin","lven","lil"],"range":["#0c22c8","#1ed6ee","#1ed6ee","#e61ee6","#22d622","#1f2a98","#a3def0","#a3def0","#2b8cd6","#f0b22c"]},"legend":null},"size":{"field":"s","type":"ordinal","scale":{"domain":["main","sub"],"range":[12,8]},"legend":null}}},
   {"data":{"name":"k6"},"mark":{"type":"text","font":"DejaVu Sans","fontWeight":"bold","fontSize":9,"align":"right","baseline":"middle","dx":-1},"encoding":{"x":{"field":"t","type":"quantitative","scale":{"domain":[0,10],"nice":false,"zero":false},"axis":null},"y":{"field":"y","type":"quantitative","scale":{"domain":[0,8],"nice":false,"zero":false},"axis":null},"text":{"field":"text"},"color":{"field":"c","type":"nominal","scale":{"domain":["VSW","VGATE","VIN","VEN","IL","lvsw","lvgate","lvin","lven","lil"],"range":["#0c22c8","#1ed6ee","#1ed6ee","#e61ee6","#22d622","#1f2a98","#a3def0","#a3def0","#2b8cd6","#f0b22c"]},"legend":null}}},
   {"data":{"name":"g6"},"mark":{"type":"text","font":"Noto Sans CJK SC","fontSize":9,"align":"left","baseline":"middle","color":"#6e6e6e"},"encoding":{"x":{"field":"t","type":"quantitative","scale":{"domain":[0,10],"nice":false,"zero":false},"axis":null},"y":{"field":"y","type":"quantitative","scale":{"domain":[0,8],"nice":false,"zero":false},"axis":null},"text":{"field":"text"}}},
   {"data":{"values":[{}]},"mark":{"type":"rule","color":"#9a9ad8","strokeWidth":1.2},"encoding":{"x":{"datum":2.8,"scale":{"domain":[0,10],"nice":false,"zero":false},"axis":null},"x2":{"datum":7.2},"y":{"datum":8.08,"scale":{"domain":[0,8],"nice":false,"zero":false},"axis":null}}},
   {"data":{"values":[{}]},"mark":{"type":"rule","color":"#f0a22a","strokeWidth":3},"encoding":{"x":{"datum":5,"scale":{"domain":[0,10],"nice":false,"zero":false},"axis":null},"y":{"datum":8.26,"scale":{"domain":[0,8],"nice":false,"zero":false},"axis":null},"y2":{"datum":7.9}}},
   {"data":{"values":[{}]},"mark":{"type":"text","font":"DejaVu Sans","fontWeight":"bold","fontSize":7,"align":"center","baseline":"middle","color":"#f0a22a"},"encoding":{"x":{"datum":5,"scale":{"domain":[0,10],"nice":false,"zero":false},"axis":null},"y":{"datum":7.72,"scale":{"domain":[0,8],"nice":false,"zero":false},"axis":null},"text":{"value":"U"}}},
   {"data":{"values":[{}]},"mark":{"type":"text","font":"DejaVu Sans","fontWeight":"bold","fontSize":14,"align":"center","baseline":"middle","color":"#000000"},"encoding":{"x":{"datum":4.65,"scale":{"domain":[0,10],"nice":false,"zero":false},"axis":null},"y":{"datum":8.58,"scale":{"domain":[0,8],"nice":false,"zero":false},"axis":null},"text":{"value":"EN Power Off"}}},
   {"data":{"values":[{}]},"mark":{"type":"text","font":"DejaVu Sans","fontSize":14,"align":"center","baseline":"middle","color":"#000000"},"encoding":{"x":{"datum":4.69,"scale":{"domain":[0,10],"nice":false,"zero":false},"axis":null},"y":{"datum":-0.43,"scale":{"domain":[0,8],"nice":false,"zero":false},"axis":null},"text":{"value":"200µS/div"}}}
  ]}
 ]}
]
}
